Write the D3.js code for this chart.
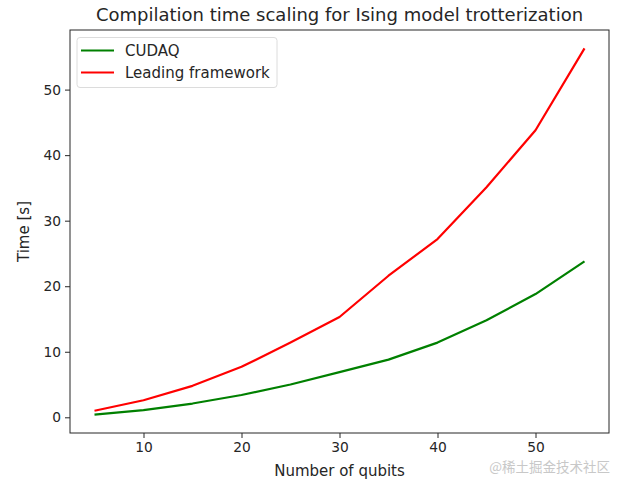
<!DOCTYPE html>
<html>
<head>
<meta charset="utf-8">
<script src="https://cdn.jsdelivr.net/npm/d3@7"></script>
<style>
  body { margin: 0; background: #fff; }
  text { font-family: "DejaVu Sans", sans-serif; fill: #262626; }
</style>
</head>
<body>
<svg id="chart"></svg>
<script>
let width = 625, height = 488;

// data
let qubits = [5, 10, 15, 20, 25, 30, 35, 40, 45, 50, 55];
let cudaq = [0.4, 1.1, 2.1, 3.4, 5.0, 6.9, 8.8, 11.4, 14.8, 18.8, 23.8];
let leading = [1.0, 2.6, 4.8, 7.7, 11.4, 15.3, 21.6, 27.2, 35.1, 43.8, 56.3];
let xTicks = [10, 20, 30, 40, 50];
let yTicks = [0, 10, 20, 30, 40, 50];
let seriesNames = ["CUDAQ", "Leading framework"];
let seriesColors = ["green", "red"];

let margin = {left: 70, right: 16, top: 30, bottom: 55};

let svg = d3.select("#chart")
    .attr("width", width)
    .attr("height", height);

// matplotlib style 5% padding around the data
let xMin = d3.min(qubits), xMax = d3.max(qubits);
let allY = cudaq.concat(leading);
let yMin = d3.min(allY), yMax = d3.max(allY);
let xPad = (xMax - xMin) * 0.05, yPad = (yMax - yMin) * 0.05;

let x = d3.scaleLinear()
    .domain([xMin - xPad, xMax + xPad])
    .range([margin.left, width - margin.right]);

let y = d3.scaleLinear()
    .domain([yMin - yPad, yMax + yPad])
    .range([height - margin.bottom, margin.top]);

// axes
let xAxis = svg.append("g")
    .attr("transform", `translate(0,${height - margin.bottom})`)
    .call(d3.axisBottom(x).tickValues(xTicks).tickSize(5).tickPadding(4).tickSizeOuter(0));

let yAxis = svg.append("g")
    .attr("transform", `translate(${margin.left},0)`)
    .call(d3.axisLeft(y).tickValues(yTicks).tickSize(5).tickPadding(4).tickSizeOuter(0));

[xAxis, yAxis].forEach(a => {
    a.selectAll("text").style("font-size", "13.8px").style("font-family", "DejaVu Sans, sans-serif").attr("fill", "#262626");
    a.selectAll("line").attr("stroke", "#262626");
    a.select(".domain").remove();
});

// frame
svg.append("rect")
    .attr("x", margin.left)
    .attr("y", margin.top)
    .attr("width", width - margin.left - margin.right)
    .attr("height", height - margin.top - margin.bottom)
    .attr("fill", "none")
    .attr("stroke", "#262626")
    .attr("stroke-width", 1);

// lines
let line = d3.line()
    .x((d, i) => x(qubits[i]))
    .y(d => y(d));

[cudaq, leading].forEach((s, i) => {
    svg.append("path")
        .datum(s)
        .attr("d", line)
        .attr("fill", "none")
        .attr("stroke", seriesColors[i])
        .attr("stroke-width", 2.2)
        .attr("stroke-linejoin", "round");
});

// title and labels
svg.append("text")
    .attr("x", (margin.left + width - margin.right) / 2)
    .attr("y", 21)
    .attr("text-anchor", "middle")
    .style("font-size", "18px")
    .text("Compilation time scaling for Ising model trotterization");

svg.append("text")
    .attr("x", (margin.left + width - margin.right) / 2)
    .attr("y", 476)
    .attr("text-anchor", "middle")
    .style("font-size", "15px")
    .text("Number of qubits");

svg.append("text")
    .attr("transform", `translate(29,${(margin.top + height - margin.bottom) / 2}) rotate(-90)`)
    .attr("text-anchor", "middle")
    .style("font-size", "15px")
    .text("Time [s]");

// legend
let legend = svg.append("g");

legend.append("rect")
    .attr("x", 77)
    .attr("y", 37.5)
    .attr("width", 200)
    .attr("height", 50)
    .attr("rx", 3)
    .attr("fill", "#fff")
    .attr("stroke", "#dcdcdc");

seriesNames.forEach((name, i) => {
    let ly = 50.5 + i * 22;
    legend.append("line")
        .attr("x1", 81)
        .attr("x2", 114)
        .attr("y1", ly)
        .attr("y2", ly)
        .attr("stroke", seriesColors[i])
        .attr("stroke-width", 2.2);
    legend.append("text")
        .attr("x", 125)
        .attr("y", ly)
        .attr("dy", "0.35em")
        .style("font-size", "15px")
        .text(name);
});

// watermark
svg.append("text")
    .attr("x", 610)
    .attr("y", 472)
    .attr("text-anchor", "end")
    .style("font-family", "Noto Sans CJK SC, sans-serif")
    .style("font-size", "13.5px")
    .style("fill", "#c8c8c8")
    .text("@稀土掘金技术社区");
</script>
</body>
</html>
